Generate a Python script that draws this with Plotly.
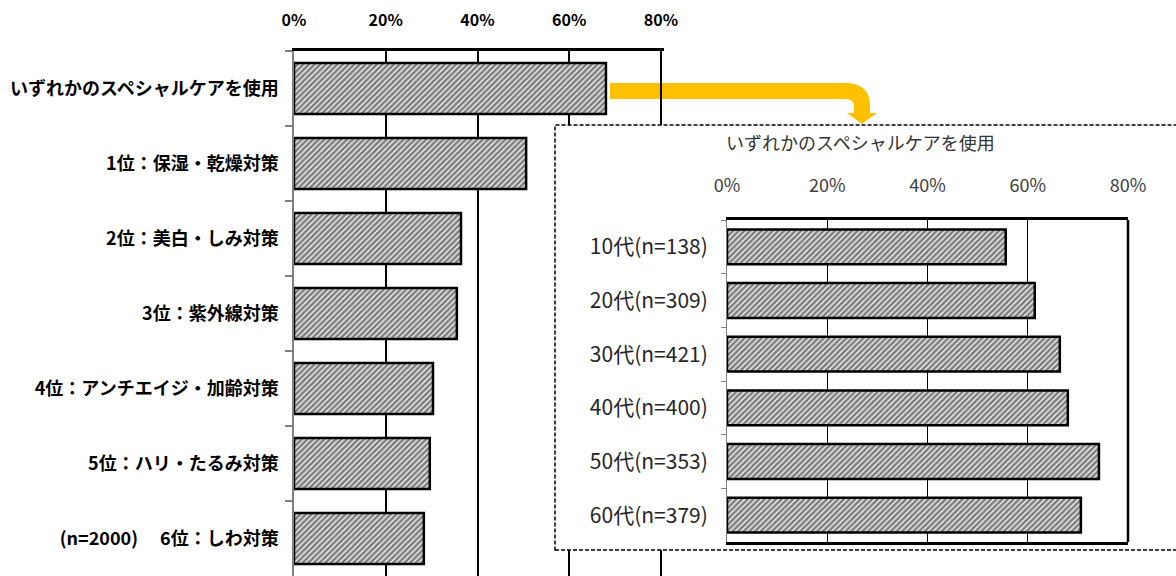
import plotly.graph_objects as go

W, H = 1176, 576

# ---- data ----
main_categories = [
    "いずれかのスペシャルケアを使用",
    "1位：保湿・乾燥対策",
    "2位：美白・しみ対策",
    "3位：紫外線対策",
    "4位：アンチエイジ・加齢対策",
    "5位：ハリ・たるみ対策",
    "(n=2000)　 6位：しわ対策",
]
main_values = [68.0, 50.6, 36.4, 35.5, 30.3, 29.6, 28.3]

inset_title = "いずれかのスペシャルケアを使用"
inset_categories = [
    "10代(n=138)",
    "20代(n=309)",
    "30代(n=421)",
    "40代(n=400)",
    "50代(n=353)",
    "60代(n=379)",
]
inset_values = [55.6, 61.4, 66.4, 68.0, 74.2, 70.6]

tick_vals = [0, 20, 40, 60, 80]
tick_text = ["0%", "20%", "40%", "60%", "80%"]

FONT = "Noto Sans CJK JP"


def pxx(x):
    return x / W


def pxy(y):
    return 1 - y / H


pattern = dict(shape="/", size=4, solidity=0.7, fgcolor="black", bgcolor="white")

fig = go.Figure()

# main chart
fig.add_trace(go.Bar(
    x=main_values, y=main_categories, orientation="h",
    xaxis="x", yaxis="y", width=0.68,
    marker=dict(color="white", line=dict(color="black", width=2.5), pattern=pattern),
    showlegend=False, hoverinfo="skip",
))

# inset background box (empty subplot)
fig.add_trace(go.Scatter(x=[], y=[], xaxis="x2", yaxis="y2", showlegend=False))

# inset chart
fig.add_trace(go.Bar(
    x=inset_values, y=inset_categories, orientation="h",
    xaxis="x3", yaxis="y3", width=0.65,
    marker=dict(color="white", line=dict(color="black", width=2.5), pattern=pattern),
    showlegend=False, hoverinfo="skip",
))

main_x0, main_scale = 294, 367 / 80
ins_x0, ins_scale = 727, 401 / 80

fig.update_layout(
    width=W, height=H, autosize=False,
    margin=dict(l=0, r=0, t=0, b=0, pad=0),
    paper_bgcolor="white", plot_bgcolor="white",
    font=dict(family=FONT, color="black"),
    xaxis=dict(
        domain=[pxx(main_x0), pxx(main_x0 + 80.6 * main_scale)],
        range=[0, 80.6], side="top", anchor="y", automargin=False,
        tickvals=tick_vals, ticktext=tick_text,
        tickfont=dict(size=16, family=FONT, color="black", weight="bold"),
        ticks="", ticklabelstandoff=16,
        showline=True, linecolor="black", linewidth=3,
        showgrid=True, gridcolor="black", gridwidth=2,
        zeroline=False, fixedrange=True,
    ),
    yaxis=dict(
        domain=[0, pxy(51)], anchor="x", automargin=False,
        autorange="reversed", type="category",
        tickson="boundaries", ticks="outside", ticklen=7, tickcolor="#808080",
        tickwidth=1.5,
        showline=True, linecolor="#808080", linewidth=1.5,
        tickfont=dict(size=18, family=FONT, color="black", weight="bold"),
        ticklabelstandoff=10,
        showgrid=False, zeroline=False, fixedrange=True,
    ),
    xaxis2=dict(domain=[pxx(555), 1], anchor="y2", visible=False, range=[0, 1], automargin=False),
    yaxis2=dict(domain=[pxy(550), pxy(125)], anchor="x2", visible=False, range=[0, 1], automargin=False),
    xaxis3=dict(
        domain=[pxx(ins_x0), pxx(ins_x0 + 80 * ins_scale)],
        range=[0, 80], side="top", anchor="y3", automargin=False,
        tickvals=tick_vals, ticktext=tick_text,
        tickfont=dict(size=18, family=FONT, color="#404040"),
        ticks="", ticklabelstandoff=18,
        showline=True, mirror=True, linecolor="black", linewidth=2.5,
        showgrid=True, gridcolor="black", gridwidth=1,
        zeroline=False, fixedrange=True,
    ),
    yaxis3=dict(
        domain=[pxy(542), pxy(220)], anchor="x3", automargin=False,
        autorange="reversed", type="category",
        tickson="boundaries", ticks="outside", ticklen=5, tickcolor="#808080",
        showline=True, linecolor="#808080", linewidth=1,
        tickfont=dict(size=21, family=FONT, color="#262626"),
        ticklabelstandoff=14,
        showgrid=False, zeroline=False, fixedrange=True,
    ),
    annotations=[
        dict(
            text=inset_title, xref="paper", yref="paper",
            x=pxx(860), y=pxy(142), xanchor="center", yanchor="middle",
            showarrow=False, font=dict(size=18, family=FONT, color="#333333"),
        )
    ],
)

# inset right border
fig.add_shape(type="line", xref="x3 domain", yref="y3 domain", x0=1, x1=1, y0=0, y1=1,
              line=dict(color="black", width=2.5), layer="above")

# dashed frame of inset box
fig.add_shape(type="rect", xref="paper", yref="paper",
              x0=pxx(555), x1=1.01, y0=pxy(550), y1=pxy(125),
              line=dict(color="black", width=1.5, dash="4px,2px"), fillcolor="rgba(0,0,0,0)",
              layer="above")

# orange connector arrow
pts = [
    ("M", 610, 83), ("L", 845, 83), ("Q", 870, 83, 870, 106), ("L", 870, 113),
    ("L", 877, 113), ("L", 862, 124), ("L", 847, 113), ("L", 854, 113), ("L", 854, 106),
    ("Q", 854, 99, 845, 99), ("L", 610, 99),
]
path = ""
for p in pts:
    cmd = p[0]
    coords = p[1:]
    pairs = [f"{pxx(coords[i]):.5f},{pxy(coords[i + 1]):.5f}" for i in range(0, len(coords), 2)]
    path += cmd + " " + " ".join(pairs) + " "
path += "Z"
fig.add_shape(type="path", xref="paper", yref="paper", path=path,
              fillcolor="#FFC000", line=dict(width=0), layer="below")

fig.write_html("out.html")
